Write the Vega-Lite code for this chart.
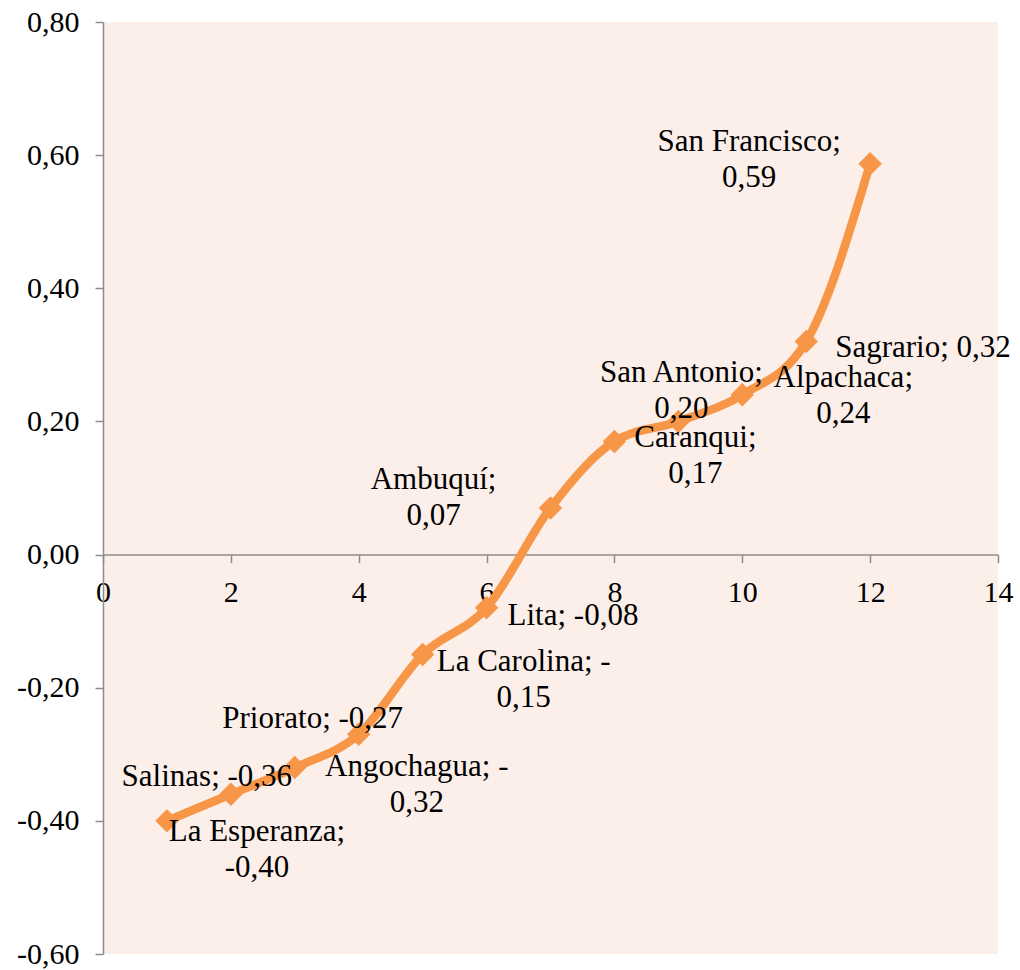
{
  "$schema": "https://vega.github.io/schema/vega-lite/v6.json",
  "width": 895,
  "height": 932,
  "autosize": {"type": "none"},
  "padding": {"left": 103, "top": 22, "right": 22, "bottom": 16},
  "background": "white",
  "config": {
    "view": {"fill": "#FCEEE9", "stroke": null},
    "text": {"font": "Liberation Serif", "fontSize": 31, "lineHeight": 36, "lineBreak": "\n", "baseline": "middle", "align": "center", "color": "black"},
    "axis": {"labelFont": "Liberation Serif", "labelFontSize": 30, "labelColor": "black", "domainColor": "#8c8c8c", "domainWidth": 1.5, "tickColor": "#8c8c8c", "tickWidth": 1.5, "tickSize": 8, "grid": false, "title": null}
  },
  "data": {
    "values": [
      {"x": 1, "y": -0.40, "name": "La Esperanza", "label": "La Esperanza;\n-0,40"},
      {"x": 2, "y": -0.36, "name": "Salinas", "label": "Salinas; -0,36"},
      {"x": 3, "y": -0.32, "name": "Angochagua", "label": "Angochagua; -\n0,32"},
      {"x": 4, "y": -0.27, "name": "Priorato", "label": "Priorato; -0,27"},
      {"x": 5, "y": -0.15, "name": "La Carolina", "label": "La Carolina; -\n0,15"},
      {"x": 6, "y": -0.08, "name": "Lita", "label": "Lita; -0,08"},
      {"x": 7, "y": 0.07, "name": "Ambuquí", "label": "Ambuquí;\n0,07"},
      {"x": 8, "y": 0.17, "name": "Caranqui", "label": "Caranqui;\n0,17"},
      {"x": 9, "y": 0.20, "name": "San Antonio", "label": "San Antonio;\n0,20"},
      {"x": 10, "y": 0.24, "name": "Alpachaca", "label": "Alpachaca;\n0,24"},
      {"x": 11, "y": 0.32, "name": "Sagrario", "label": "Sagrario; 0,32"},
      {"x": 12, "y": 0.587, "name": "San Francisco", "label": "San Francisco;\n0,59"}
    ]
  },
  "encoding": {
    "x": {"field": "x", "type": "quantitative", "scale": {"domain": [0, 14], "nice": false, "zero": false},
      "axis": {"values": [0, 2, 4, 6, 8, 10, 12, 14], "offset": -399.4, "labelPadding": 15, "labelFlush": false, "labelOverlap": false}},
    "y": {"field": "y", "type": "quantitative", "scale": {"domain": [-0.6, 0.8], "nice": false},
      "axis": {"values": [-0.6, -0.4, -0.2, 0, 0.2, 0.4, 0.6, 0.8], "labelExpr": "replace(replace(format(datum.value, '.2f'), '.', ','), '\u2212', '-')", "labelPadding": 16, "labelFlush": false, "labelOverlap": false}}
  },
  "layer": [
    {"mark": {"type": "line", "interpolate": "monotone", "color": "#F79646", "strokeWidth": 8.5}},
    {"mark": {"type": "point", "shape": "diamond", "filled": true, "size": 550, "color": "#F79646", "opacity": 1}},
    {"transform": [{"filter": "datum.name === 'San Francisco'"}], "mark": {"type": "text", "dx": -121, "dy": -22}, "encoding": {"text": {"field": "label"}}},
    {"transform": [{"filter": "datum.name === 'Sagrario'"}], "mark": {"type": "text", "align": "left", "dx": 29, "dy": 6}, "encoding": {"text": {"field": "label"}}},
    {"transform": [{"filter": "datum.name === 'Alpachaca'"}], "mark": {"type": "text", "dx": 101, "dy": -17}, "encoding": {"text": {"field": "label"}}},
    {"transform": [{"filter": "datum.name === 'San Antonio'"}], "mark": {"type": "text", "dx": 3, "dy": -48}, "encoding": {"text": {"field": "label"}}},
    {"transform": [{"filter": "datum.name === 'Caranqui'"}], "mark": {"type": "text", "dx": 81, "dy": -3}, "encoding": {"text": {"field": "label"}}},
    {"transform": [{"filter": "datum.name === 'Ambuquí'"}], "mark": {"type": "text", "dx": -117, "dy": -28}, "encoding": {"text": {"field": "label"}}},
    {"transform": [{"filter": "datum.name === 'Lita'"}], "mark": {"type": "text", "align": "left", "dx": 21, "dy": 8}, "encoding": {"text": {"field": "label"}}},
    {"transform": [{"filter": "datum.name === 'La Carolina'"}], "mark": {"type": "text", "dx": 101, "dy": 8}, "encoding": {"text": {"field": "label"}}},
    {"transform": [{"filter": "datum.name === 'Priorato'"}], "mark": {"type": "text", "dx": -46, "dy": -15}, "encoding": {"text": {"field": "label"}}},
    {"transform": [{"filter": "datum.name === 'Angochagua'"}], "mark": {"type": "text", "dx": 122, "dy": -1}, "encoding": {"text": {"field": "label"}}},
    {"transform": [{"filter": "datum.name === 'Salinas'"}], "mark": {"type": "text", "dx": -24, "dy": -17}, "encoding": {"text": {"field": "label"}}},
    {"transform": [{"filter": "datum.name === 'La Esperanza'"}], "mark": {"type": "text", "dx": 90, "dy": 11}, "encoding": {"text": {"field": "label"}}}
  ]
}
